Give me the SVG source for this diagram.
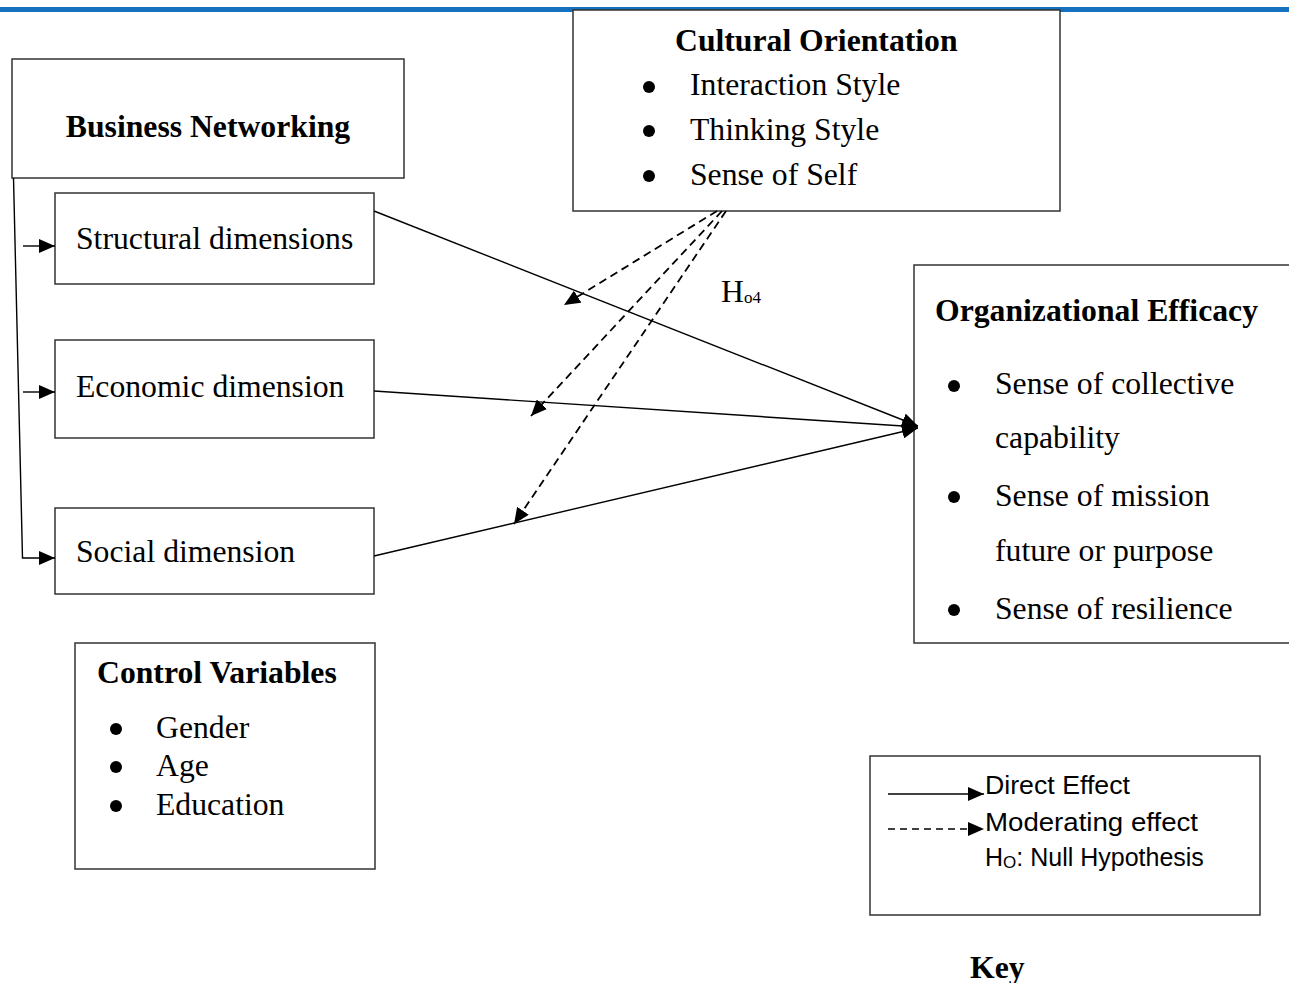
<svg xmlns="http://www.w3.org/2000/svg" width="1289" height="983" viewBox="0 0 1289 983">
<style>
.box{fill:#fff;stroke:#333;stroke-width:1.5}
.t{font-family:"Liberation Serif","Times New Roman",serif;font-size:31.7px;fill:#000}
.b{font-weight:bold}
.k{font-family:"Liberation Sans",Arial,sans-serif;font-size:25px;fill:#000}
.ln{stroke:#000;stroke-width:1.4;fill:none}
.dl{stroke:#000;stroke-width:1.8;fill:none;stroke-dasharray:8 5}
.bul{fill:#000}
</style>
<defs>
<marker id="ah" viewBox="0 0 16 14" refX="16" refY="7" markerWidth="16" markerHeight="14" orient="auto" markerUnits="userSpaceOnUse">
<path d="M0,0 L16,7 L0,14 z" fill="#000"/>
</marker>
</defs>
<rect x="0" y="7" width="1289" height="5" fill="#1570BE"/>

<g id="business-networking">
<rect class="box" x="12" y="59" width="392" height="119"/>
<text class="t b" x="208" y="137" text-anchor="middle">Business Networking</text>
</g>
<g id="structural">
<rect class="box" x="55" y="193" width="319" height="91"/>
<text class="t" x="76" y="249">Structural dimensions</text>
</g>
<g id="economic">
<rect class="box" x="55" y="340" width="319" height="98"/>
<text class="t" x="76" y="397">Economic dimension</text>
</g>
<g id="social">
<rect class="box" x="55" y="508" width="319" height="86"/>
<text class="t" x="76" y="562">Social dimension</text>
</g>
<g id="cultural-orientation">
<rect class="box" x="573" y="10" width="487" height="201"/>
<text class="t b" x="675" y="51">Cultural Orientation</text>
<circle class="bul" cx="649" cy="87" r="6"/>
<circle class="bul" cx="649" cy="131" r="6"/>
<circle class="bul" cx="649" cy="176" r="6"/>
<text class="t" x="690" y="95">Interaction Style</text>
<text class="t" x="690" y="140">Thinking Style</text>
<text class="t" x="690" y="185">Sense of Self</text>
</g>
<g id="organizational-efficacy">
<rect class="box" x="914" y="265" width="400" height="378"/>
<text class="t b" x="935" y="321">Organizational Efficacy</text>
<circle class="bul" cx="954" cy="386" r="6"/>
<circle class="bul" cx="954" cy="497" r="6"/>
<circle class="bul" cx="954" cy="610" r="6"/>
<text class="t" x="995" y="394">Sense of collective</text>
<text class="t" x="995" y="448">capability</text>
<text class="t" x="995" y="506">Sense of mission</text>
<text class="t" x="995" y="561">future or purpose</text>
<text class="t" x="995" y="619">Sense of resilience</text>
</g>
<g id="control-variables">
<rect class="box" x="75" y="643" width="300" height="226"/>
<text class="t b" x="97" y="683">Control Variables</text>
<circle class="bul" cx="116" cy="729" r="6"/>
<circle class="bul" cx="116" cy="767" r="6"/>
<circle class="bul" cx="116" cy="806" r="6"/>
<text class="t" x="156" y="738">Gender</text>
<text class="t" x="156" y="776">Age</text>
<text class="t" x="156" y="815">Education</text>
</g>

<g id="connectors">
<path class="ln" d="M13.5,178 L22.5,558 L55,558" marker-end="url(#ah)"/>
<line class="ln" x1="23" y1="246" x2="55" y2="246" marker-end="url(#ah)"/>
<line class="ln" x1="23" y1="392" x2="55" y2="392" marker-end="url(#ah)"/>
<line class="ln" x1="374" y1="211" x2="918" y2="426" marker-end="url(#ah)"/>
<line class="ln" x1="374" y1="391" x2="918" y2="427" marker-end="url(#ah)"/>
<line class="ln" x1="374" y1="556" x2="918" y2="428" marker-end="url(#ah)"/>
<line class="dl" x1="717" y1="211" x2="564" y2="305" marker-end="url(#ah)"/>
<line class="dl" x1="722" y1="211" x2="531" y2="416" marker-end="url(#ah)"/>
<line class="dl" x1="726" y1="211" x2="514" y2="524" marker-end="url(#ah)"/>
<text class="t" x="721" y="302" font-size="25">H<tspan font-size="17" dy="1">o4</tspan></text>
</g>

<g id="key">
<rect class="box" x="870" y="756" width="390" height="159"/>
<line class="ln" x1="888" y1="794" x2="984" y2="794" stroke-width="2" marker-end="url(#ah)"/>
<line class="ln" x1="888" y1="829" x2="984" y2="829" stroke-width="2" stroke-dasharray="7 5" marker-end="url(#ah)"/>
<text class="k" x="985" y="794" textLength="145" lengthAdjust="spacingAndGlyphs">Direct Effect</text>
<text class="k" x="985" y="831" textLength="213" lengthAdjust="spacingAndGlyphs">Moderating effect</text>
<text class="k" x="985" y="866" font-size="26">H<tspan font-size="17" dy="2">O</tspan><tspan dy="-2">: Null Hypothesis</tspan></text>
<text class="t b" x="970" y="978">Key</text>
</g>
</svg>
